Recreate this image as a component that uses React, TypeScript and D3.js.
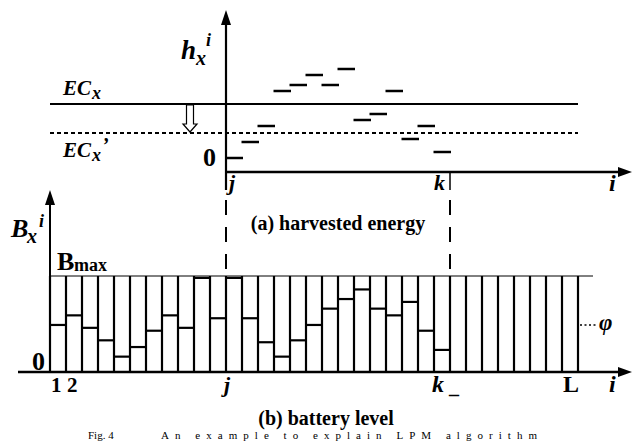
import React from "react";
import * as d3 from "d3";

// harvested energy h_x^i for slots j..k-1 (arbitrary units)
const hCols = [11, 12, 13, 14, 15, 16, 17, 18, 19, 20, 21, 22, 23, 24];
const hValues = [1.4, 3.0, 4.6, 8.1, 8.7, 9.7, 8.7, 10.3, 5.2, 5.8, 8.1, 3.3, 4.6, 2.0];
const ecX = 6.8;
const ecXPrime = 3.9;

// battery level B_x^i as fraction of Bmax, slots 1..L (null = not yet known)
const batteryLevels: (number | null)[] = [
  0.49, 0.59, 0.46, 0.33, 0.16, 0.26, 0.43, 0.59, 0.46, 0.98, 0.56,
  0.98, 0.56, 0.31, 0.16, 0.33, 0.49, 0.66, 0.76, 0.86, 0.66, 0.59,
  0.73, 0.43, 0.23, null, null, null, null, null, null, null, null,
];
const bMax = 1;
const phi = 0.49;
const jIndex = 11;
const kIndex = 25;

const W = 632;
const H = 441;
const serif = "'Liberation Serif', 'Times New Roman', Times, serif";

export default function App() {
  const n = batteryLevels.length;
  const x = d3.scaleLinear().domain([0, n]).range([50, 578]);
  const yTop = d3.scaleLinear().domain([0, 10]).range([172, 72]);
  const yBat = d3.scaleLinear().domain([0, bMax]).range([372, 276]);

  const xj = x(jIndex);
  const xk = x(kIndex);
  const edges = d3.range(n + 1);

  const upArrow = (cx: number, tip: number) =>
    `${cx},${tip} ${cx - 5},${tip + 15} ${cx + 5},${tip + 15}`;
  const rightArrow = (tip: number, cy: number) =>
    `${tip},${cy} ${tip - 14},${cy - 5} ${tip - 14},${cy + 5}`;

  // hollow downward arrow between EC_x and EC_x'
  const ax = 190;
  const a0 = yTop(ecX) + 1;
  const a1 = yTop(ecXPrime) - 1;
  const hollow = [
    [ax - 3.5, a0], [ax + 3.5, a0], [ax + 3.5, a1 - 8], [ax + 7, a1 - 8],
    [ax, a1], [ax - 7, a1 - 8], [ax - 3.5, a1 - 8],
  ].map((p) => p.join(",")).join(" ");

  const bold = { fontFamily: serif, fontWeight: 700 } as const;
  const bi = { fontFamily: serif, fontWeight: 700, fontStyle: "italic" } as const;

  return (
    <svg width={W} height={H} style={{ position: "absolute", left: 0, top: 0, background: "#fff" }}>
      {/* ---------- (a) harvested energy ---------- */}
      <line x1={x(0)} x2={x(n)} y1={yTop(ecX)} y2={yTop(ecX)} stroke="#000" strokeWidth={2} />
      <line x1={x(0)} x2={x(n)} y1={yTop(ecXPrime)} y2={yTop(ecXPrime)} stroke="#000" strokeWidth={2} strokeDasharray="4,3" />
      <polygon points={hollow} fill="#fff" stroke="#000" strokeWidth={1.2} />

      <line x1={xj} x2={xj} y1={190} y2={22} stroke="#000" strokeWidth={2.2} />
      <polygon points={upArrow(xj, 10)} fill="#000" />
      <line x1={xj} x2={620} y1={yTop(0)} y2={yTop(0)} stroke="#000" strokeWidth={2.5} />
      <polygon points={rightArrow(632, yTop(0))} fill="#000" />
      <line x1={xk} x2={xk} y1={yTop(0)} y2={190} stroke="#000" strokeWidth={1.5} />

      {hValues.map((v, i) => (
        <line key={i} x1={x(hCols[i]) - 0.5} x2={x(hCols[i] + 1) + 1} y1={yTop(v)} y2={yTop(v)} stroke="#000" strokeWidth={2.5} />
      ))}

      <text x={181} y={59} {...bi} fontSize={27}>h</text>
      <text x={196} y={65} {...bi} fontSize={20}>x</text>
      <text x={206} y={46} {...bi} fontSize={18}>i</text>
      <text x={63} y={95} {...bi} fontSize={21}>EC</text>
      <text x={92} y={99} {...bi} fontSize={18}>x</text>
      <text x={63} y={157} {...bi} fontSize={21}>EC</text>
      <text x={92} y={161} {...bi} fontSize={18}>x</text>
      <text x={102} y={152} {...bi} fontSize={20}>’</text>
      <text x={203} y={166} {...bold} fontSize={26}>0</text>
      <text x={229} y={190} {...bi} fontSize={22}>j</text>
      <text x={434} y={190} {...bi} fontSize={22}>k</text>
      <text x={609} y={191} {...bi} fontSize={24}>i</text>
      <text x={338} y={230} {...bold} fontSize={20} textAnchor="middle">(a) harvested energy</text>

      {/* dashed links j and k */}
      <line x1={xj} x2={xj} y1={200} y2={276} stroke="#000" strokeWidth={2} strokeDasharray="15,12" />
      <line x1={xk} x2={xk} y1={200} y2={276} stroke="#000" strokeWidth={2} strokeDasharray="15,12" />

      {/* ---------- (b) battery level ---------- */}
      <line x1={x(0)} x2={593} y1={yBat(bMax)} y2={yBat(bMax)} stroke="#000" strokeWidth={1} />
      {edges.map((e) => (
        <line key={e} x1={x(e)} x2={x(e)} y1={yBat(0)} y2={yBat(bMax)} stroke="#000" strokeWidth={2.2} />
      ))}
      {batteryLevels.map((v, i) =>
        v === null ? null : (
          <line key={i} x1={x(i)} x2={x(i + 1)} y1={yBat(v)} y2={yBat(v)} stroke="#000" strokeWidth={2.2} />
        )
      )}
      <line x1={x(n) + 2} x2={597} y1={yBat(phi)} y2={yBat(phi)} stroke="#000" strokeWidth={1.5} strokeDasharray="2,2.5" />
      <text x={599} y={330} {...bi} fontSize={23}>φ</text>

      <line x1={x(0)} x2={x(0)} y1={yBat(0)} y2={203} stroke="#000" strokeWidth={2} />
      <polygon points={upArrow(x(0), 190)} fill="#000" />
      <line x1={18} x2={620} y1={yBat(0)} y2={yBat(0)} stroke="#000" strokeWidth={2.5} />
      <polygon points={rightArrow(632, yBat(0))} fill="#000" />

      <text x={11} y={237} {...bi} fontSize={26}>B</text>
      <text x={27} y={243} {...bi} fontSize={20}>x</text>
      <text x={39} y={227} {...bi} fontSize={18}>i</text>
      <text x={57} y={270} {...bold} fontSize={26}>B</text>
      <text x={74} y={271} {...bold} fontSize={18}>max</text>
      <text x={32} y={370} {...bold} fontSize={26}>0</text>
      <text x={51} y={392} {...bold} fontSize={21}>1</text>
      <text x={67} y={392} {...bold} fontSize={21}>2</text>
      <text x={224} y={392} {...bi} fontSize={22}>j</text>
      <text x={432} y={392} {...bi} fontSize={24}>k</text>
      <text x={449} y={393} {...bold} fontSize={20}>_</text>
      <text x={563} y={392} {...bold} fontSize={24}>L</text>
      <text x={609} y={392} {...bi} fontSize={24}>i</text>
      <text x={326} y={425} {...bold} fontSize={20} textAnchor="middle">(b) battery level</text>

      <text x={88} y={439} fontFamily={serif} fontSize={11}>Fig. 4</text>
      <text x={161} y={439} fontFamily={serif} fontSize={11} textLength={376} lengthAdjust="spacing">An example to explain LPM algorithm</text>
    </svg>
  );
}
